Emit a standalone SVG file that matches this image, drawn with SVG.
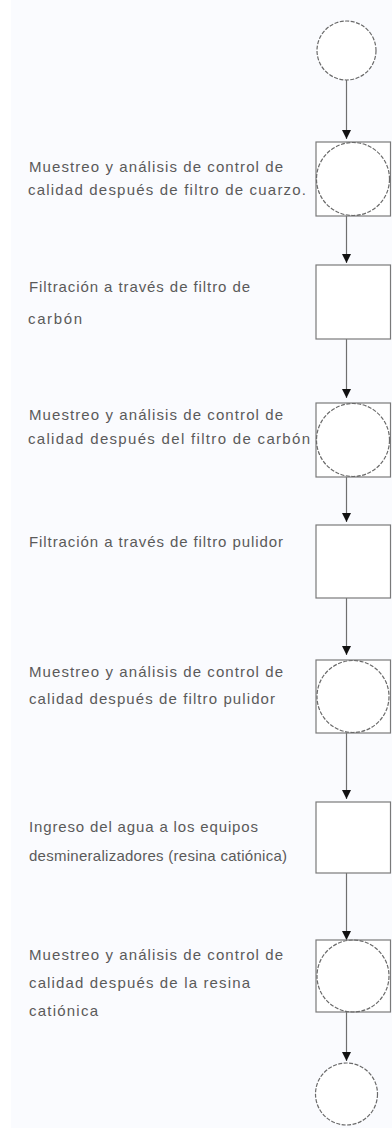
<svg xmlns="http://www.w3.org/2000/svg" width="392" height="1128" viewBox="0 0 392 1128">
  <style>
    .lbl { font-family: "Liberation Sans", Arial, sans-serif; font-size: 15px; fill: #5a5a5a; }
    .box { fill: #ffffff; stroke: #7a7a7a; stroke-width: 1.2; }
    .circ { fill: #ffffff; stroke: #6a6a6a; stroke-width: 1.2; stroke-dasharray: 4 1.5; }
    .icirc { fill: none; stroke: #6a6a6a; stroke-width: 1.2; stroke-dasharray: 4 1.5; }
    .conn { stroke: #6f6f6f; stroke-width: 1.2; fill: none; marker-end: url(#arr); }
  </style>
  <defs>
    <marker id="arr" viewBox="0 0 10 10" refX="10" refY="5" markerWidth="9" markerHeight="11" markerUnits="userSpaceOnUse" orient="auto">
      <path d="M0,0 L10,5 L0,10 z" fill="#111"/>
    </marker>
  </defs>
  <rect x="0" y="0" width="392" height="1128" fill="#ffffff"/>
  <rect x="11" y="0" width="381" height="1128" fill="#fafbfe"/>

  <g id="connectors">
    <line class="conn" x1="346.5" y1="80" x2="346.5" y2="139"/>
    <line class="conn" x1="346.5" y1="216" x2="346.5" y2="263"/>
    <line class="conn" x1="346.5" y1="339" x2="346.5" y2="398"/>
    <line class="conn" x1="346.5" y1="477" x2="346.5" y2="522"/>
    <line class="conn" x1="346.5" y1="598" x2="346.5" y2="655"/>
    <line class="conn" x1="346.5" y1="733" x2="346.5" y2="799"/>
    <line class="conn" x1="346.5" y1="873" x2="346.5" y2="940"/>
    <line class="conn" x1="346.5" y1="1012" x2="346.5" y2="1061"/>
  </g>

  <g id="start">
    <circle class="circ" cx="346.5" cy="50.5" r="29.5"/>
  </g>

  <g id="n1">
    <rect class="box" x="316" y="142" width="74.5" height="74"/>
    <circle class="icirc" cx="353" cy="179" r="36.5"/>
    <text class="lbl" x="29" y="172" textLength="254" lengthAdjust="spacing">Muestreo y análisis de control de</text>
    <text class="lbl" x="28" y="195" textLength="278" lengthAdjust="spacing">calidad después de filtro de cuarzo.</text>
  </g>

  <g id="n2">
    <rect class="box" x="316" y="265" width="74.5" height="74"/>
    <text class="lbl" x="29" y="292" textLength="221" lengthAdjust="spacing">Filtración a través de filtro de</text>
    <text class="lbl" x="28" y="324" textLength="54" lengthAdjust="spacing">carbón</text>
  </g>

  <g id="n3">
    <rect class="box" x="316" y="403" width="74.5" height="74"/>
    <circle class="icirc" cx="353" cy="440" r="36.5"/>
    <text class="lbl" x="29" y="420" textLength="254" lengthAdjust="spacing">Muestreo y análisis de control de</text>
    <text class="lbl" x="28" y="444" textLength="282" lengthAdjust="spacing">calidad después del filtro de carbón</text>
  </g>

  <g id="n4">
    <rect class="box" x="316" y="525" width="74.5" height="73"/>
    <text class="lbl" x="29" y="547" textLength="254" lengthAdjust="spacing">Filtración a través de filtro pulidor</text>
  </g>

  <g id="n5">
    <rect class="box" x="316" y="660" width="74.5" height="73"/>
    <circle class="icirc" cx="353" cy="696.5" r="36"/>
    <text class="lbl" x="29" y="677" textLength="254" lengthAdjust="spacing">Muestreo y análisis de control de</text>
    <text class="lbl" x="29" y="704" textLength="246" lengthAdjust="spacing">calidad después de filtro pulidor</text>
  </g>

  <g id="n6">
    <rect class="box" x="316" y="802" width="74.5" height="71"/>
    <text class="lbl" x="29" y="832" textLength="229" lengthAdjust="spacing">Ingreso del agua a los equipos</text>
    <text class="lbl" x="29" y="861" textLength="258" lengthAdjust="spacing">desmineralizadores (resina catiónica)</text>
  </g>

  <g id="n7">
    <rect class="box" x="316" y="940" width="74.5" height="72"/>
    <circle class="icirc" cx="353" cy="976" r="36"/>
    <text class="lbl" x="29" y="960" textLength="254" lengthAdjust="spacing">Muestreo y análisis de control de</text>
    <text class="lbl" x="29" y="988" textLength="221" lengthAdjust="spacing">calidad después de la resina</text>
    <text class="lbl" x="29" y="1016" textLength="69" lengthAdjust="spacing">catiónica</text>
  </g>

  <g id="end">
    <circle class="circ" cx="346.5" cy="1094" r="31"/>
  </g>
</svg>
